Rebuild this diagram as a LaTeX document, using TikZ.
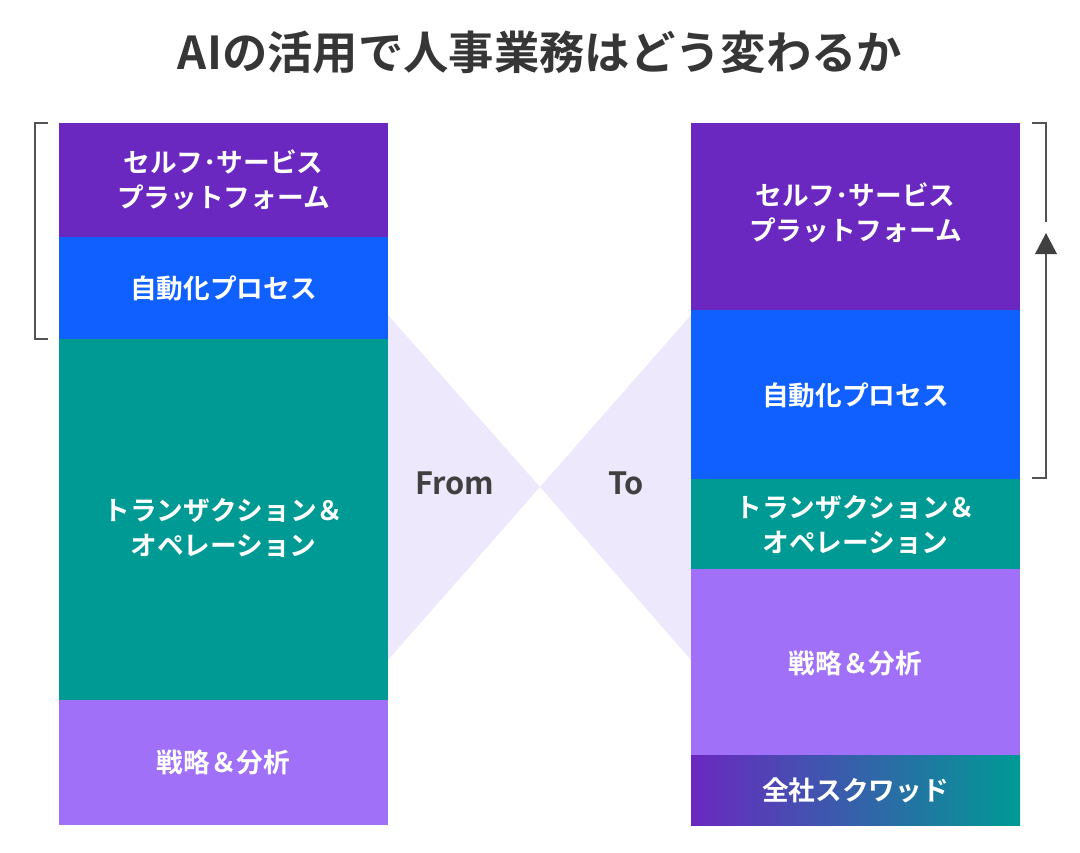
\documentclass[tikz,border=0pt]{standalone}
\usepackage{fontspec}
\setmainfont{Noto Sans CJK JP}[BoldFont={* Bold}]
\usetikzlibrary{arrows.meta}
\definecolor{cpurple}{HTML}{6A28C0}
\definecolor{cblue}{HTML}{1060FF}
\definecolor{cteal}{HTML}{009A94}
\definecolor{clight}{HTML}{A070F8}
\definecolor{clav}{HTML}{EEE8FC}
\definecolor{cgray}{HTML}{404040}
\begin{document}
\begin{tikzpicture}[x=0.75pt,y=-0.75pt,
  blk/.style={draw=none},
  lbl/.style={text=white,font=\fontsize{20}{26}\selectfont\bfseries,align=center},
  brk/.style={draw=cgray!90,line width=2.2pt}]
\useasboundingbox (0,0) rectangle (1080,852);
\node[font=\fontsize{34}{40}\selectfont\bfseries,text=cgray!85!black] (title) at (540,52) {AIの活用で人事業務はどう変わるか};
% hourglass
\fill[clav] (388,315) -- (540,487) -- (388,660) -- cycle;
\fill[clav] (691,315) -- (540,487) -- (691,660) -- cycle;
\node[font=\fontsize{23}{28}\selectfont\bfseries,text=cgray] (from) at (455,483) {From};
\node[font=\fontsize{23}{28}\selectfont\bfseries,text=cgray] (to) at (626,483) {To};
% left column
\fill[cpurple] (59,123) rectangle (388,237);
\fill[cblue] (59,237) rectangle (388,339);
\fill[cteal] (59,339) rectangle (388,700);
\fill[clight] (59,700) rectangle (388,825);
\node[lbl] (l1) at (223.5,180) {セルフ･サービス\\プラットフォーム};
\node[lbl] (l2) at (223.5,288) {自動化プロセス};
\node[lbl] (l3) at (223.5,528) {トランザクション＆\\オペレーション};
\node[lbl] (l4) at (223.5,762) {戦略＆分析};
% right column
\fill[cpurple] (691,123) rectangle (1020,310);
\fill[cblue] (691,310) rectangle (1020,479);
\fill[cteal] (691,479) rectangle (1020,569);
\fill[clight] (691,569) rectangle (1020,755);
\shade[left color=cpurple,middle color=cblue,right color=cteal] (691,755) rectangle (1020,825);
\node[lbl] (r1) at (855.5,213) {セルフ･サービス\\プラットフォーム};
\node[lbl] (r2) at (855.5,395) {自動化プロセス};
\node[lbl] (r3) at (855.5,525) {トランザクション＆\\オペレーション};
\node[lbl] (r4) at (855.5,663) {戦略＆分析};
\node[lbl] (r5) at (855.5,790) {全社スクワッド};
% brackets
\draw[brk] (48,123) -- (35,123) -- (35,339) -- (48,339);
\draw[brk] (1032,123) -- (1046,123) -- (1046,222);
\draw[brk] (1032,478) -- (1046,478) -- (1046,236);
\fill[cgray] (1046,233) -- (1035,254) -- (1057,254) -- cycle;
\end{tikzpicture}
\end{document}
